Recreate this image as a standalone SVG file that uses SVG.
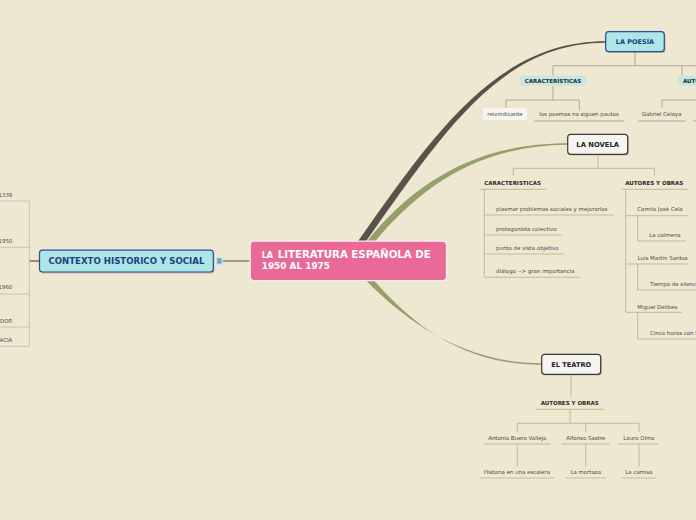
<svg xmlns="http://www.w3.org/2000/svg" width="696" height="520" viewBox="0 0 696 520">
<style>
text{font-family:"DejaVu Sans","Liberation Sans",sans-serif}
.it{font-size:5.45px;fill:#4d4a44}
.lb{font-size:5.5px;font-weight:bold;fill:#2b2a27}
.tan{stroke:#b0a993;stroke-width:1;fill:none}
.olv{stroke:#b9c092;stroke-width:1;fill:none}
.gl{stroke:#c9c3b0;stroke-width:1;fill:none}
.sh{fill:#000;opacity:0.18}
.cy{fill:#ace6e6;stroke:#2b4e8e;stroke-width:1.2}
.wh{fill:#f6f4ef;stroke:#3a3a38;stroke-width:1.2}
.ct{font-weight:bold;fill:#1f3f80}
.nt{font-weight:bold;fill:#222}
</style>
<rect width="696" height="520" fill="#eee7d2"/>
<g id="connectors">
<path d="M357.5,242 C437,128.5 499,41.3 606,41.3 L606,42.7 C501,42.7 444,131.5 365.5,242 Z" fill="#57534a"/>
<path d="M366.5,242 C417,179 480,143.3 568,143.3 L568,144.7 C481,145.5 424,183 374.5,242 Z" fill="#95a06a"/>
<path d="M366,280.5 C402,317 460,363.3 542,363.3 L542,364.7 C459,365.5 408,319 374,280.5 Z" fill="#95a06a"/>
<line x1="223" y1="261" x2="250" y2="261" stroke="#8c877b" stroke-width="1.6"/>
<line x1="29" y1="261" x2="40" y2="261" stroke="#7b776a" stroke-width="1.6"/>
<path class="gl" d="M29.3,201 V346.3 M0,201 H29.3 M0,247.3 H29.3 M0,294 H29.3 M0,327 H29.3 M0,346.3 H29.3"/>
<path class="tan" d="M635,52 V65.7 M553,65.7 H700 M553,65.7 V76 M682,65.7 V76 M553,86 V100 M506,100 H579.3 M506,100 V108 M579.3,100 V110 M662,100 H700 M662,100 V108 M534,121 H624 M638,121 H686 M693,121 H700"/>
<path class="olv" d="M598,154.5 V168.3 M513.3,168.3 H654.3 M513.3,168.3 V176 M654.3,168.3 V176 M480,189.3 H546.7 M484.3,189.3 V277.3 M484.3,215 H614 M484.3,235 H561.7 M484.3,254 H564.3 M484.3,277.3 H580.7 M621.7,189.3 H688.3 M625.7,189.3 V312.3 M625.7,215.7 H688.3 M637.7,215.7 V241 M637.7,241 H686 M625.7,264 H688 M637.7,264 V290 M637.7,290 H700 M625.7,312.3 H681.7 M637.7,312.3 V339 M637.7,339 H700"/>
<path class="olv" d="M571,374.5 V397 M536,409.3 H603.3 M570,409.3 V423.3 M517.3,423.3 H639 M517.3,423.3 V432 M585.7,423.3 V432 M639,423.3 V432 M483.3,444 H551 M561,444 H609.7 M618.3,444 H659 M517.3,444 V466.7 M585.7,444 V466.7 M639,444 V466.7 M479.3,478 H554.3 M566,478 H605.7 M621,478 H656.7"/>
</g>
<g id="context-labels">
<text class="it" x="12.3" y="196.7" text-anchor="end">1339</text>
<text class="it" x="12.3" y="242.7" text-anchor="end">1950</text>
<text class="it" x="12.3" y="289.3" text-anchor="end">1960</text>
<text class="it" x="12.3" y="322.7" text-anchor="end">DOR</text>
<text class="it" x="12.3" y="341.7" text-anchor="end">ACIA</text>
</g>
<g id="contexto">
<rect class="sh" x="40.5" y="251.5" width="174" height="22" rx="3"/>
<rect class="cy" x="39.5" y="250.2" width="173.8" height="21.8" rx="3"/>
<text class="ct" x="126.4" y="264.2" font-size="8.2" text-anchor="middle" textLength="156" lengthAdjust="spacingAndGlyphs">CONTEXTO HISTORICO Y SOCIAL</text>
<rect x="216" y="257.3" width="6.7" height="7.4" fill="#b3e4ea"/>
<path d="M217.3,259.2 H221.4 M217.3,261 H221.4 M217.3,262.8 H221.4" stroke="#2b4e8e" stroke-width="0.8"/>
</g>
<g id="central">
<rect x="250.2" y="241.2" width="196.3" height="39.4" rx="4" fill="#e96a98" stroke="#f8f0f2" stroke-width="1.3"/>
<text x="261.7" y="257.7" font-weight="bold" fill="#ffffff"><tspan font-size="8">LA</tspan><tspan font-size="9.8" x="277.7" textLength="153" lengthAdjust="spacingAndGlyphs">LITERATURA ESPAÑOLA DE</tspan></text>
<text x="261.7" y="269.3" font-weight="bold" fill="#ffffff" font-size="8.3" textLength="68.3" lengthAdjust="spacingAndGlyphs">1950 AL 1975</text>
</g>
<g id="poesia">
<rect class="sh" x="607" y="33" width="58.6" height="20" rx="3"/>
<rect class="cy" x="605.7" y="31.7" width="58.6" height="20" rx="3"/>
<text class="ct" x="635" y="44.3" font-size="6.5" text-anchor="middle">LA POESÍA</text>
</g>
<g id="poesia-caracteristicas">
<rect x="520" y="75.7" width="66" height="10" rx="2" fill="#c4e6e4"/>
<text class="lb" x="553" y="82.8" font-size="5.3" text-anchor="middle">CARACTERÍSTICAS</text>
</g>
<g id="poesia-autores">
<rect x="678" y="75.7" width="70" height="10" rx="2" fill="#c4e6e4"/>
<text class="lb" x="683" y="82.8" font-size="5.3">AUTORES Y OBRAS</text>
</g>
<g id="reivindicante">
<rect x="483" y="108" width="44" height="12" fill="#f7f5f0"/>
<text class="it" x="505" y="116.3" text-anchor="middle">reivindicante</text>
</g>
<g id="pautas"><text class="it" x="579" y="116.3" text-anchor="middle">los poemas no siguen pautas</text></g>
<g id="celaya"><text class="it" x="661.7" y="116.3" text-anchor="middle">Gabriel Celaya</text></g>
<g id="novela">
<rect class="sh" x="569" y="135.6" width="60" height="20" rx="3"/>
<rect class="wh" x="567.7" y="134.3" width="60" height="20" rx="3"/>
<text class="nt" x="597.7" y="146.8" font-size="6.8" text-anchor="middle">LA NOVELA</text>
</g>
<g id="novela-caracteristicas"><text class="lb" x="484.3" y="185.3" font-size="5.3">CARACTERISTICAS</text></g>
<g id="novela-items">
<text class="it" x="496" y="211.2">plasmar problemas sociales y mejorarlos</text>
<text class="it" x="496" y="231">protagonista colectivo</text>
<text class="it" x="496" y="249.6">punto de vista objetivo</text>
<text class="it" x="496" y="273">diálogo --&gt; gran importancia</text>
</g>
<g id="novela-autores"><text class="lb" x="654.3" y="185.3" font-size="5.3" text-anchor="middle">AUTORES Y OBRAS</text></g>
<g id="cela"><text class="it" x="660" y="211.3" text-anchor="middle">Camilo José Cela</text><text class="it" x="665" y="237" text-anchor="middle">La colmena</text></g>
<g id="martin-santos"><text class="it" x="662.7" y="260.3" text-anchor="middle">Luis Martín Santos</text><text class="it" x="650" y="286">Tiempo de silencio</text></g>
<g id="delibes"><text class="it" x="657.3" y="308.7" text-anchor="middle">Miguel Delibes</text><text class="it" x="650" y="335">Cinco horas con Mario</text></g>
<g id="teatro">
<rect class="sh" x="543" y="355.6" width="59" height="20" rx="3"/>
<rect class="wh" x="541.7" y="354.3" width="59" height="20" rx="3"/>
<text class="nt" x="571.2" y="366.8" font-size="6.6" text-anchor="middle">EL TEATRO</text>
</g>
<g id="teatro-autores"><text class="lb" x="569.7" y="404.8" font-size="5.3" text-anchor="middle">AUTORES Y OBRAS</text></g>
<g id="buero"><text class="it" x="517.3" y="440.3" text-anchor="middle">Antonio Buero Vallejo</text><text class="it" x="517" y="474" text-anchor="middle">Historia en una escalera</text></g>
<g id="sastre"><text class="it" x="585.7" y="440.3" text-anchor="middle">Alfonso Sastre</text><text class="it" x="585.7" y="474" text-anchor="middle">La mortaza</text></g>
<g id="olmo"><text class="it" x="639" y="440.3" text-anchor="middle">Lauro Olmo</text><text class="it" x="639" y="474" text-anchor="middle">La camisa</text></g>
</svg>
